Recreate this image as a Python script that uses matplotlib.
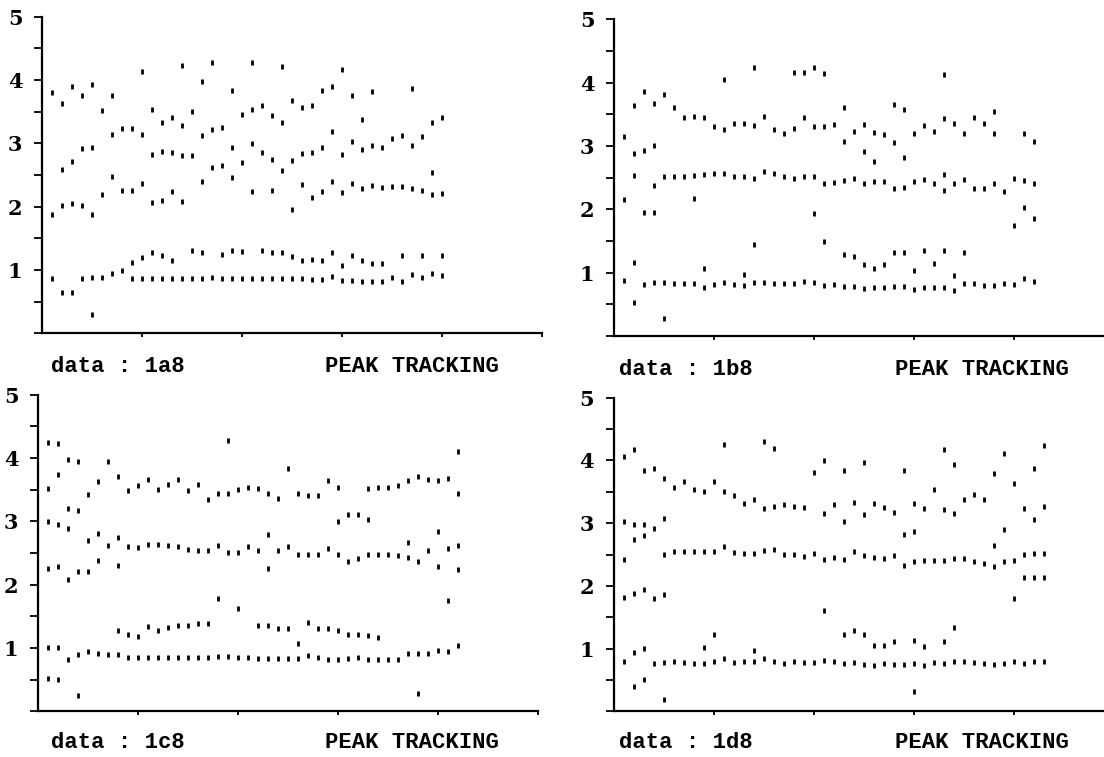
import numpy as np
import matplotlib
matplotlib.use("Agg")
import matplotlib.pyplot as plt
from matplotlib.ticker import MultipleLocator

# peak positions per scan (one list per scan column)
la8 = [
    [3.81, 1.89, 0.88], [3.63, 2.59, 2.02, 0.66], [3.91, 2.72, 2.05, 0.66],
    [3.76, 2.92, 2.02, 0.88], [3.94, 2.95, 1.89, 0.89, 0.30], [3.52, 2.20, 0.89],
    [3.77, 3.14, 2.48, 0.95], [3.24, 2.26, 1.00], [3.24, 2.26, 1.12, 0.88],
    [4.15, 3.14, 2.38, 1.21, 0.88], [3.55, 2.83, 2.07, 1.29, 0.88],
    [3.33, 2.88, 2.11, 1.23, 0.88], [3.42, 2.86, 2.25, 1.16, 0.88],
    [4.23, 3.29, 2.81, 2.09, 0.88], [3.51, 2.81, 1.31, 0.88],
    [3.98, 3.13, 2.41, 1.29, 0.88], [4.29, 3.23, 2.62, 0.89],
    [3.26, 2.66, 1.25, 0.88], [3.84, 2.95, 2.47, 1.32, 0.88],
    [3.47, 2.71, 1.30, 0.88], [4.29, 3.55, 3.01, 2.24, 0.87],
    [3.61, 2.87, 1.32, 0.87], [3.45, 2.75, 2.26, 1.29, 0.88],
    [4.22, 3.33, 2.58, 1.28, 0.88], [3.69, 2.74, 1.97, 1.22, 0.88],
    [3.58, 2.85, 2.36, 1.15, 0.87], [3.61, 2.87, 2.15, 1.17, 0.85],
    [3.84, 2.95, 2.24, 1.15, 0.85], [3.90, 3.19, 2.40, 1.28, 0.91],
    [4.18, 2.83, 2.23, 1.08, 0.84], [3.76, 3.04, 2.37, 1.23, 0.84],
    [3.39, 2.91, 2.29, 1.16, 0.83], [3.82, 2.98, 2.34, 1.11, 0.83],
    [2.95, 2.31, 1.11, 0.83], [3.09, 2.33, 0.89], [3.13, 2.33, 1.23, 0.82],
    [3.87, 2.98, 2.29, 0.94], [3.12, 2.26, 1.23, 0.89],
    [3.33, 2.54, 2.20, 0.96], [3.42, 2.22, 1.23, 0.92],
]

lb8 = [
    [3.15, 2.17, 0.89], [3.64, 2.89, 2.54, 1.17, 0.54], [3.87, 2.94, 1.96, 0.82],
    [3.68, 3.02, 2.39, 1.96, 0.85], [3.82, 2.53, 0.85, 0.29], [3.61, 2.53, 0.83],
    [3.46, 2.52, 0.83], [3.47, 2.54, 2.18, 0.83], [3.46, 2.55, 1.08, 0.78],
    [3.31, 2.57, 0.82], [4.06, 3.27, 2.57, 0.86], [3.37, 2.53, 0.82],
    [3.37, 2.52, 0.98, 0.81], [4.25, 3.33, 2.49, 1.45, 0.86], [3.47, 2.61, 0.86],
    [3.27, 2.57, 0.84], [3.21, 2.52, 0.84], [4.17, 3.29, 2.49, 0.83],
    [4.17, 3.45, 2.52, 0.87], [4.24, 3.32, 2.53, 1.94, 0.86],
    [4.16, 3.32, 2.41, 1.50, 0.81], [3.34, 2.43, 0.82],
    [3.61, 3.08, 2.47, 1.29, 0.79], [3.24, 2.49, 1.27, 0.79],
    [3.34, 2.92, 2.41, 1.14, 0.75], [3.22, 2.76, 2.44, 1.08, 0.77],
    [3.19, 2.44, 1.13, 0.77], [3.67, 3.06, 2.33, 1.32, 0.79],
    [3.58, 2.82, 2.35, 1.32, 0.79], [3.20, 2.44, 1.04, 0.74],
    [3.33, 2.48, 1.36, 0.78], [3.23, 2.42, 1.15, 0.77],
    [4.13, 3.44, 2.55, 2.31, 1.36, 0.78], [3.37, 2.41, 0.96, 0.73],
    [3.20, 2.48, 1.32, 0.84], [3.46, 2.34, 0.84], [3.37, 2.34, 0.81],
    [3.55, 3.21, 2.42, 0.81], [2.29, 0.83], [2.50, 1.75, 0.82],
    [3.20, 2.47, 2.03, 0.91], [3.08, 2.41, 1.87, 0.87],
]

lc8 = [
    [4.26, 3.53, 3.01, 2.26, 1.01, 0.53], [4.24, 3.74, 2.96, 2.29, 1.01, 0.51],
    [3.98, 3.21, 2.89, 2.09, 0.82], [3.96, 3.18, 2.22, 0.91, 0.26],
    [3.43, 2.70, 2.22, 0.96], [3.63, 2.82, 2.39, 0.92], [3.96, 2.62, 0.91],
    [3.71, 2.75, 2.31, 1.29, 0.91], [3.50, 2.61, 1.22, 0.85],
    [3.58, 2.59, 1.19, 0.85], [3.67, 2.64, 1.34, 0.85], [3.51, 2.64, 1.29, 0.85],
    [3.59, 2.62, 1.33, 0.85], [3.67, 2.61, 1.36, 0.85], [3.50, 2.57, 1.37, 0.85],
    [3.59, 2.55, 1.39, 0.85], [3.36, 2.55, 1.39, 0.85], [3.45, 2.62, 1.79, 0.87],
    [4.29, 3.45, 2.52, 0.87], [3.51, 2.52, 1.63, 0.85], [3.55, 2.61, 0.85],
    [3.53, 2.55, 1.37, 0.84], [3.45, 2.80, 2.27, 1.37, 0.84],
    [3.37, 2.55, 1.31, 0.84], [3.85, 2.61, 1.31, 0.84], [3.45, 2.48, 1.08, 0.84],
    [3.42, 2.48, 1.41, 0.89], [3.41, 2.48, 1.32, 0.85], [3.66, 2.58, 1.31, 0.83],
    [3.55, 3.01, 2.48, 1.29, 0.83], [3.12, 2.38, 1.22, 0.84],
    [3.12, 2.42, 1.22, 0.85], [3.53, 3.03, 2.48, 1.21, 0.83],
    [3.55, 2.48, 1.17, 0.83], [3.55, 2.48, 0.83], [3.57, 2.47, 0.83],
    [3.66, 2.68, 2.43, 0.92], [3.71, 2.38, 0.92, 0.29], [3.67, 2.55, 0.92],
    [3.66, 2.85, 2.29, 0.97], [3.68, 2.58, 1.76, 0.95],
    [4.11, 3.45, 2.63, 2.25, 1.05],
]

ld8 = [
    [4.07, 3.03, 2.43, 1.82, 0.80], [4.19, 2.99, 2.74, 1.89, 0.95, 0.40],
    [3.84, 2.98, 2.81, 1.95, 1.01, 0.52], [3.88, 2.93, 1.81, 0.77],
    [3.72, 3.09, 2.51, 1.87, 0.78, 0.20], [3.57, 2.56, 0.81], [3.68, 2.55, 0.78],
    [3.55, 2.55, 0.77], [3.52, 2.55, 1.02, 0.77], [3.68, 2.56, 1.23, 0.81],
    [4.27, 3.51, 2.63, 0.85], [3.45, 2.54, 0.78], [3.32, 2.53, 0.81],
    [3.39, 2.53, 0.98, 0.80], [4.31, 3.24, 2.57, 0.85], [4.20, 3.27, 2.59, 0.81],
    [3.31, 2.51, 0.77], [3.27, 2.51, 0.80], [3.26, 2.47, 0.78],
    [3.82, 2.53, 0.78], [4.00, 3.16, 2.43, 1.62, 0.82], [3.31, 2.46, 0.81],
    [3.84, 3.03, 2.43, 1.23, 0.77], [3.34, 2.56, 1.29, 0.78],
    [3.98, 3.15, 2.50, 1.23, 0.76], [3.32, 2.46, 1.06, 0.74],
    [3.26, 2.44, 1.06, 0.77], [3.18, 2.50, 1.13, 0.76], [3.84, 2.82, 2.34, 0.76],
    [3.32, 2.87, 2.40, 1.14, 0.77, 0.32], [3.24, 2.42, 1.04, 0.74],
    [3.54, 2.42, 0.78], [4.18, 3.23, 2.42, 1.12, 0.77],
    [3.95, 3.16, 2.45, 1.34, 0.81], [3.39, 2.45, 0.80], [3.46, 2.40, 0.78],
    [3.39, 2.37, 0.77], [3.80, 2.66, 2.31, 0.76], [4.12, 2.90, 2.40, 0.77],
    [3.64, 2.42, 1.81, 0.80], [3.24, 2.51, 2.14, 0.77],
    [3.88, 3.06, 2.53, 2.14, 0.80], [4.24, 3.28, 2.53, 2.14, 0.81],
]

labels = ["1a8", "1b8", "1c8", "1d8"]

W, H = 1104, 757
fig = plt.figure(figsize=(W / 100, H / 100), dpi=100)

# axes boxes in pixels: left, top(y=5), bottom(y=0)
boxes = [(42, 16.7, 333.3), (614, 19.3, 336.0),
         (38, 394.7, 711.3), (613.6, 397.7, 711.4)]
captions = [(366, 118, 412), (369, 686, 982), (742, 118, 412), (742, 686, 982)]
datasets = [la8, lb8, lc8, ld8]

for data, (l, t, b), lab, (ty, cx1, cx2) in zip(datasets, boxes, labels, captions):
    ax = fig.add_axes([l / W, 1 - b / H, 500 / W, (b - t) / H])
    for i, col in enumerate(data, start=1):
        ax.plot([i] * len(col), col, ls="none", marker="|", ms=3.6, mew=2.0,
                color="black")
    ax.set_xlim(0, 50)
    ax.set_ylim(0, 5)
    ax.spines["top"].set_visible(False)
    ax.spines["right"].set_visible(False)
    ax.spines["left"].set_linewidth(1.6)
    ax.spines["bottom"].set_linewidth(1.6)
    ax.yaxis.set_minor_locator(MultipleLocator(0.5))
    ax.set_yticks([1, 2, 3, 4, 5])
    ax.set_yticklabels(["1", "2", "3", "4", "5"], fontsize=15,
                       fontweight="bold", family="DejaVu Serif")
    ax.set_xticks([10, 20, 30, 40, 50])
    ax.set_xticklabels([])
    ax.tick_params(axis="y", which="both", direction="out", length=6,
                   width=1.3, pad=8)
    ax.tick_params(axis="x", direction="out", length=3, width=1.3)
    ax.patch.set_alpha(0)

    fig.text(cx1 / W, 1 - ty / H, "data : " + lab, ha="center", va="center",
             fontsize=16, fontweight="bold", family="Liberation Mono")
    fig.text(cx2 / W, 1 - ty / H, "PEAK TRACKING", ha="center", va="center",
             fontsize=16, fontweight="bold", family="Liberation Mono")

fig.savefig("out.png", dpi=100)
